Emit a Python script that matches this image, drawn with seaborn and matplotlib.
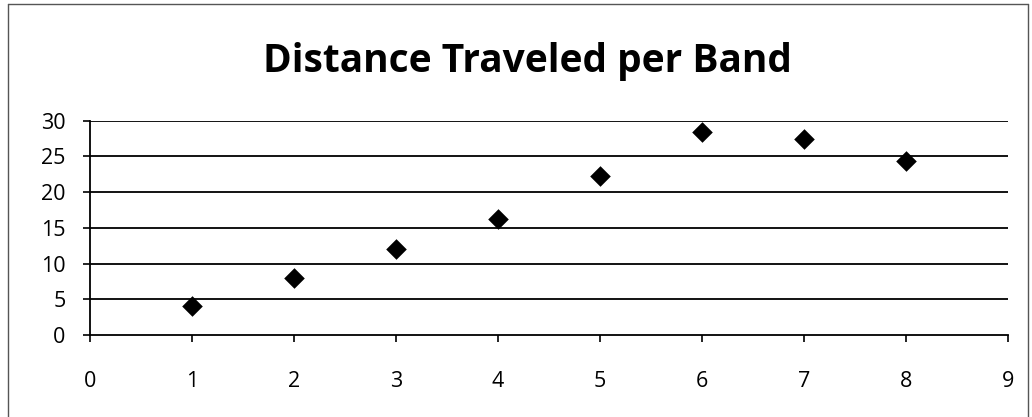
import matplotlib
matplotlib.use("Agg")
import matplotlib.pyplot as plt
import seaborn as sns
import pandas as pd
from matplotlib.lines import Line2D

bands = [1, 2, 3, 4, 5, 6, 7, 8]
distance = [4.0, 8.0, 12.1, 16.2, 22.3, 28.4, 27.4, 24.4]
x_ticks = [0, 1, 2, 3, 4, 5, 6, 7, 8, 9]
y_ticks = [0, 5, 10, 15, 20, 25, 30]
title = "Distance Traveled per Band"

sns.set_theme(style="white")
plt.rcParams['font.family'] = ['Open Sans', 'DejaVu Sans']

df = pd.DataFrame({"band": bands, "distance": distance})

fig = plt.figure(figsize=(10.32, 4.17), dpi=100)
ax = fig.add_axes([0.0872, 0.1966, 0.8895, 0.514])

sns.scatterplot(data=df, x="band", y="distance", marker="D", s=110,
                color="black", edgecolor="black", linewidth=0, ax=ax, zorder=3)

ax.set_xlim(0, 9)
ax.set_ylim(0, 30)
ax.set_xticks(x_ticks)
ax.set_yticks(y_ticks)
ax.set_xlabel("")
ax.set_ylabel("")
for y in y_ticks[1:]:
    ax.axhline(y, color="black", linewidth=1.3, zorder=1)
for s in ["top", "right"]:
    ax.spines[s].set_visible(False)
for s in ["left", "bottom"]:
    ax.spines[s].set_color("black")
    ax.spines[s].set_linewidth(1.3)
ax.tick_params(axis="both", which="major", direction="out", length=5, width=1.2,
               color="black", labelcolor="black", bottom=True, left=True,
               labelsize=15.5)
ax.tick_params(axis="x", pad=21)
ax.tick_params(axis="y", pad=12.5)

fig.text(0.511, 0.827, title, ha="center", va="baseline", fontsize=28,
         fontweight="bold", color="black")

frame_kw = dict(transform=fig.transFigure, color="#555555", linewidth=1.0)
fig.add_artist(Line2D([0.008, 0.008], [0.0, 0.99], **frame_kw))
fig.add_artist(Line2D([0.008, 0.996], [0.99, 0.99], **frame_kw))
fig.add_artist(Line2D([0.996, 0.996], [0.0, 0.99], **frame_kw))

fig.savefig("out.png", dpi=100)
